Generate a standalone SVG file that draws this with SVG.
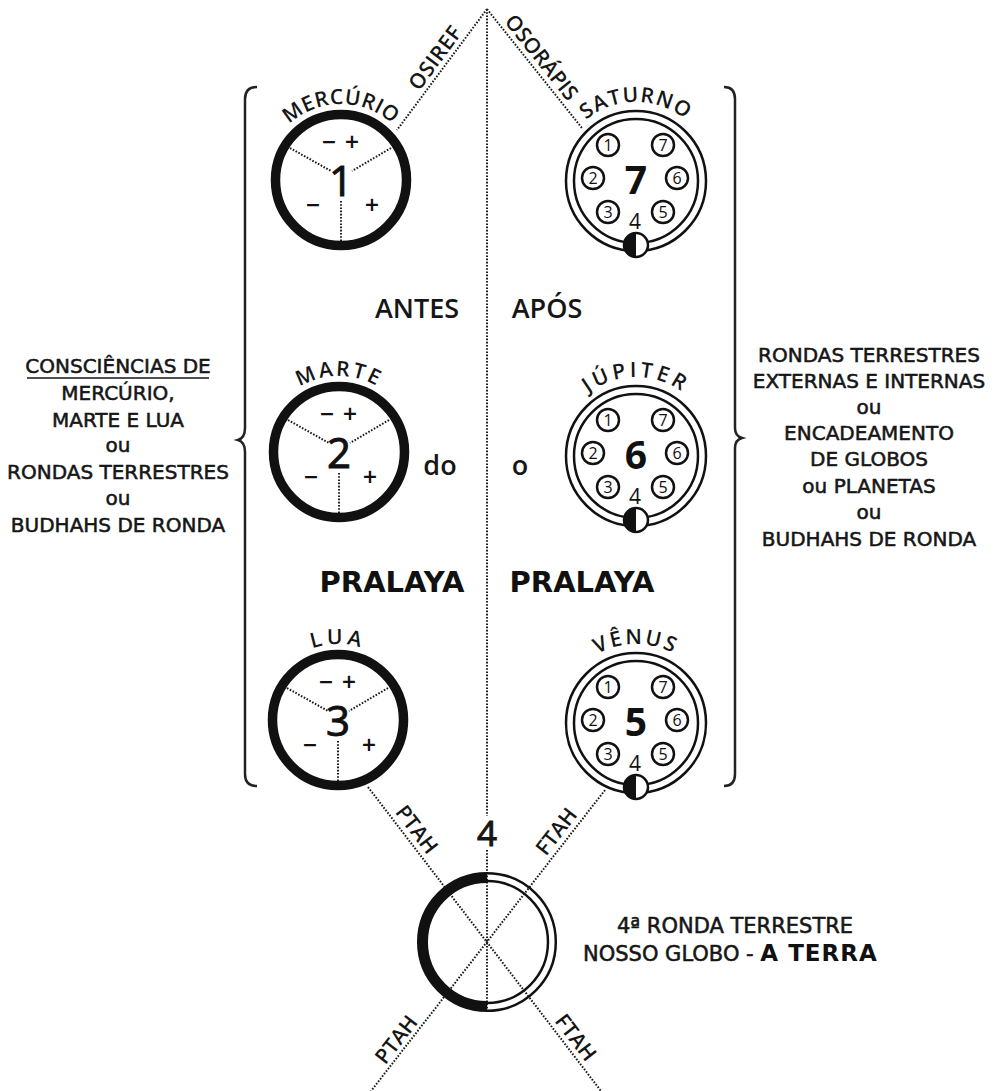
<svg xmlns="http://www.w3.org/2000/svg" width="997" height="1091" viewBox="0 0 997 1091">
<style>
.t{font-family:"Open Sans","DejaVu Sans",sans-serif;font-weight:600;fill:#161616}
.d{font-family:"DejaVu Sans","Open Sans",sans-serif;font-weight:400;fill:#161616;stroke:#161616;stroke-width:0.55px}
.c{text-anchor:middle}
.s20{font-size:20px}
.blk{font-family:"DejaVu Sans",sans-serif;font-weight:bold;fill:#111}
.dot{fill:none;stroke:#1a1a1a;stroke-width:2;stroke-dasharray:1.6 1.6}
.ring{fill:none;stroke:#111;stroke-width:9.5}
.thin{fill:none;stroke:#111;stroke-width:2.5}
.brace{fill:none;stroke:#222;stroke-width:2.5}
.dig{font-family:"Open Sans",sans-serif;font-weight:400;font-size:42px;fill:#111;stroke:#111;stroke-width:1px;text-anchor:middle}
.big{font-family:"Open Sans",sans-serif;font-weight:700;font-size:39px;fill:#111;text-anchor:middle}
.sg{font-family:"DejaVu Sans",sans-serif;font-weight:bold;font-size:19px;fill:#111;text-anchor:middle}
.cn{font-family:"Open Sans",sans-serif;font-size:16px;font-weight:400;fill:#111;text-anchor:middle}
.arc{font-size:21px}
.lab{font-size:21px}
</style>
<defs>
<path id="arcL" d="M-76,0 A76,76 0 0 1 76,0"/>
<path id="arcR" d="M-79,0 A79,79 0 0 1 79,0"/>
<g id="lc">
<circle r="65.5" class="ring"/>
<path class="dot" d="M-51,-32 L-10,-9 M50,-32 L11,-9 M0,21 V61"/>
<text class="sg" x="-12" y="-32">−</text>
<text class="sg" x="11" y="-32">+</text>
<text class="sg" x="-28" y="31">−</text>
<text class="sg" x="31" y="31">+</text>
</g>
<g id="rc">
<circle r="70" class="thin"/>
<circle r="62" class="thin"/>
<circle cx="-28" cy="-36" r="11" class="thin"/>
<circle cx="27" cy="-36" r="11" class="thin"/>
<circle cx="-43" cy="-3" r="11" class="thin"/>
<circle cx="41" cy="-3" r="11" class="thin"/>
<circle cx="-28" cy="31" r="11" class="thin"/>
<circle cx="27" cy="31" r="11" class="thin"/>
<text class="cn" x="-28" y="-30.3">1</text>
<text class="cn" x="27" y="-30.3">7</text>
<text class="cn" x="-43" y="2.7">2</text>
<text class="cn" x="41" y="2.7">6</text>
<text class="cn" x="-28" y="36.7">3</text>
<text class="cn" x="27" y="36.7">5</text>
<text class="cn" x="-1" y="48" style="font-size:21px">4</text>
<circle cx="0" cy="64" r="12" fill="#fff" stroke="#111" stroke-width="2.5"/>
<path d="M0,52 A12,12 0 0 0 0,76 Z" fill="#111"/>
</g>
</defs>
<rect width="997" height="1091" fill="#fff"/>

<g id="connectors">
<path class="dot" d="M487,9 V816 M487,850 V1010"/>
<path class="dot" d="M487,9 L397,130 M487,9 L582,128"/>
<path class="dot" d="M368,787 L601,1091 M605,790 L371,1091"/>
</g>

<g id="brace-left"><path class="brace" d="M257,87 Q245,87 245,99 V428 Q245,438 238,440 Q245,442 245,452 V774 Q245,786 257,786"/></g>
<g id="brace-right"><path class="brace" d="M724,87 Q735,87 735,99 V428 Q735,436 742,438 Q735,440 735,448 V774 Q735,786 724,786"/></g>

<g id="label-osiref" transform="translate(445,65) rotate(-53.4)"><text class="t c lab" y="-5" style="letter-spacing:0.5px">OSIREF</text></g>
<g id="label-osorapis" transform="translate(532,65) rotate(51.4)"><text class="t c lab" y="-5">OSORÁPIS</text></g>
<g id="label-ptah1" transform="translate(407,837) rotate(52.5)"><text class="t c lab" y="-5">PTAH</text></g>
<g id="label-ftah1" transform="translate(566,839) rotate(-52.2)"><text class="t c lab" y="-5">FTAH</text></g>
<g id="label-ptah2" transform="translate(406,1047) rotate(-52.2)"><text class="t c lab" y="-5">PTAH</text></g>
<g id="label-ftah2" transform="translate(566,1045) rotate(52.5)"><text class="t c lab" y="-5">FTAH</text></g>

<g id="mercurio" transform="translate(341,180)">
<use href="#lc"/>
<text class="dig" y="16">1</text>
<text class="t c arc" style="letter-spacing:0.5px"><textPath href="#arcL" startOffset="50%">MERCÚRIO</textPath></text>
</g>
<g id="marte" transform="translate(339,452)">
<use href="#lc"/>
<text class="dig" y="16">2</text>
<text class="t c arc" style="letter-spacing:2.5px"><textPath href="#arcL" startOffset="50%">MARTE</textPath></text>
</g>
<g id="lua" transform="translate(338,720)">
<use href="#lc"/>
<text class="dig" y="16">3</text>
<text class="t c arc" style="letter-spacing:4px"><textPath href="#arcL" startOffset="50%">LUA</textPath></text>
</g>
<g id="saturno" transform="translate(636,181)">
<use href="#rc"/>
<text class="big" y="13">7</text>
<text class="t c arc" style="letter-spacing:1.3px"><textPath href="#arcR" startOffset="50%">SATURNO</textPath></text>
</g>
<g id="jupiter" transform="translate(636,456)">
<use href="#rc"/>
<text class="big" y="13">6</text>
<text class="t c arc" style="letter-spacing:3.5px"><textPath href="#arcR" startOffset="50%">JÚPITER</textPath></text>
</g>
<g id="venus" transform="translate(636,723)">
<use href="#rc"/>
<text class="big" y="13">5</text>
<text class="t c arc" style="letter-spacing:2.5px"><textPath href="#arcR" startOffset="50%">VÊNUS</textPath></text>
</g>

<g id="terra" transform="translate(487,942)">
<path d="M0,-64.5 A64.5,64.5 0 0 0 0,64.5" fill="none" stroke="#111" stroke-width="11"/>
<path d="M0,-68.8 A68.8,68.8 0 0 1 0,68.8" class="thin"/>
<path d="M0,-61 A61,61 0 0 1 0,61" class="thin"/>
</g>
<g id="label-4"><text class="t c" x="487" y="846" style="font-size:35px;font-weight:400;stroke:#161616;stroke-width:1px">4</text></g>

<g id="center-texts">
<text class="t c" x="417" y="318" style="font-size:27px">ANTES</text>
<text class="t c" x="547" y="318" style="font-size:27px">APÓS</text>
<text class="t c" x="440" y="475" style="font-size:27px">do</text>
<text class="t c" x="520" y="475" style="font-size:27px">o</text>
<text class="blk c" x="392" y="592" style="font-size:29px">PRALAYA</text>
<text class="blk c" x="582" y="592" style="font-size:29px">PRALAYA</text>
</g>

<g id="left-note" class="d c s20">
<text x="118" y="373">CONSCIÊNCIAS DE</text>
<line x1="27" y1="378" x2="209" y2="378" stroke="#161616" stroke-width="1.5"/>
<text x="118" y="400">MERCÚRIO,</text>
<text x="118" y="427">MARTE E LUA</text>
<text x="118" y="452">ou</text>
<text x="118" y="479">RONDAS TERRESTRES</text>
<text x="118" y="505">ou</text>
<text x="118" y="532">BUDHAHS DE RONDA</text>
</g>

<g id="right-note" class="d c s20">
<text x="869" y="362">RONDAS TERRESTRES</text>
<text x="869" y="388">EXTERNAS E INTERNAS</text>
<text x="869" y="414">ou</text>
<text x="869" y="440">ENCADEAMENTO</text>
<text x="869" y="466">DE GLOBOS</text>
<text x="869" y="493">ou PLANETAS</text>
<text x="869" y="519">ou</text>
<text x="869" y="546">BUDHAHS DE RONDA</text>
</g>

<g id="terra-note" class="d" style="font-size:21px">
<text class="c" x="735" y="933">4ª RONDA TERRESTRE</text>
<text x="583" y="961">NOSSO GLOBO - <tspan class="blk" style="font-size:23px;letter-spacing:1px;stroke:none">A TERRA</tspan></text>
</g>
</svg>
